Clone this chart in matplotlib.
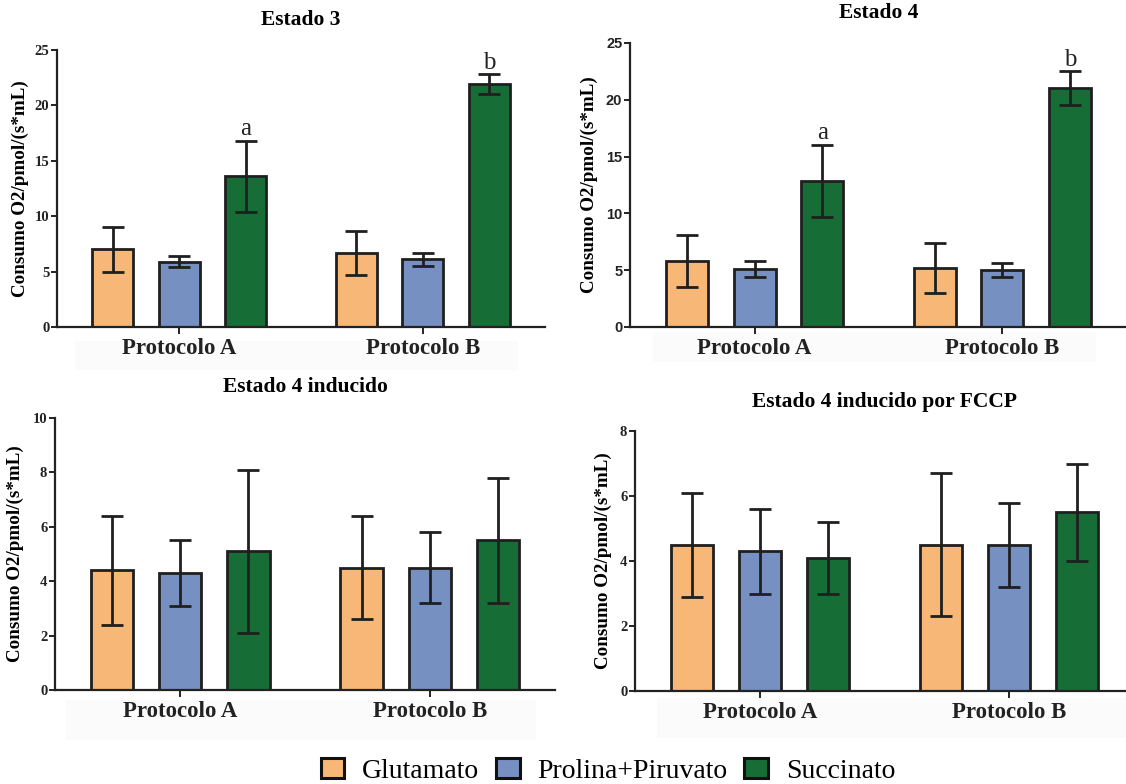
import matplotlib
matplotlib.use("Agg")
import matplotlib.pyplot as plt
from matplotlib.patches import Patch, Rectangle
import numpy as np

# ---- data ----
groups = ["Protocolo A", "Protocolo B"]
series = ["Glutamato", "Prolina+Piruvato", "Succinato"]
colors = ["#F7B776", "#7590C1", "#176D36"]

estado3_means = [[7.0, 6.7], [5.9, 6.1], [13.6, 21.9]]
estado3_err = [[2.0, 2.0], [0.5, 0.6], [3.2, 0.9]]
estado3_letters = ["a", "b"]

estado4_means = [[5.8, 5.2], [5.1, 5.0], [12.85, 21.0]]
estado4_err = [[2.3, 2.2], [0.7, 0.6], [3.2, 1.5]]
estado4_letters = ["a", "b"]

inducido_means = [[4.4, 4.5], [4.3, 4.5], [5.1, 5.5]]
inducido_err = [[2.0, 1.9], [1.2, 1.3], [3.0, 2.3]]

fccp_means = [[4.5, 4.5], [4.3, 4.5], [4.1, 5.5]]
fccp_err = [[1.6, 2.2], [1.3, 1.3], [1.1, 1.5]]

ylabel = "Consumo O2/pmol/(s*mL)"

# ---- layout ----
W, H = 1126, 784
fig = plt.figure(figsize=(W / 100, H / 100), dpi=100)
fig.patch.set_facecolor("white")

SERIF = ["Liberation Serif", "DejaVu Serif"]
SANS = ["Liberation Sans", "DejaVu Sans"]
EDGE = "#1f1f1f"

group_x = np.array([0.0, 3.66])
offsets = [-1.0, 0.0, 1.0]
bar_w = 0.62


def px_axes(left, right, top, bottom):
    return fig.add_axes([left / W, 1 - bottom / H, (right - left) / W, (bottom - top) / H])


def strip(left, right, top, bottom):
    fig.patches.append(Rectangle((left / W, 1 - bottom / H), (right - left) / W,
                                 (bottom - top) / H, transform=fig.transFigure,
                                 facecolor="#fbfbfb", edgecolor="none", zorder=-5))


def panel(ax, title, means, errs, ymax, ystep, tick_font, title_gap_px,
          ylab_x_px, letters=None, xright=5.5):
    for i in range(3):
        xs = group_x + offsets[i]
        ax.bar(xs, means[i], width=bar_w, color=colors[i], edgecolor=EDGE,
               linewidth=2.0, zorder=2)
        ax.errorbar(xs, means[i], yerr=errs[i], fmt="none", ecolor=EDGE,
                    elinewidth=2.0, capsize=8, capthick=2.0, zorder=3)
    if letters:
        xs = group_x + offsets[2]
        for x, m, e, lab in zip(xs, means[2], errs[2], letters):
            ax.annotate(lab, (x, m + e), xytext=(0, 4), textcoords="offset points",
                        ha="center", va="baseline", fontsize=18,
                        family=SERIF, color="#222222")
    ax.set_xlim(-1.84, xright)
    ax.set_ylim(0, ymax)
    ax.set_yticks(np.arange(0, ymax + 0.01, ystep))
    ax.set_xticks(group_x)
    ax.set_xticklabels(groups, family=SERIF, fontweight="bold", fontsize=16.5)
    for lab in ax.get_yticklabels():
        lab.set_family(tick_font)
        lab.set_fontweight("bold")
        lab.set_fontsize(10.5)
    for s in ("top", "right"):
        ax.spines[s].set_visible(False)
    for s in ("left", "bottom"):
        ax.spines[s].set_linewidth(1.6)
        ax.spines[s].set_color("#222222")
    ax.tick_params(axis="y", length=4, width=1.4, pad=1.5, colors="#222222")
    ax.tick_params(axis="x", length=5, width=1.4, pad=3, colors="#222222")
    ax.set_ylabel(ylabel, family=SERIF, fontweight="bold", fontsize=13.7)
    ax.yaxis.label.set_va("center")
    # label centre placed at a fixed pixel distance left of the spine
    bb = ax.get_position()
    ax_w_px = bb.width * W
    ax_h_px = bb.height * H
    ax.yaxis.set_label_coords(-ylab_x_px / ax_w_px, 0.5)
    ax.text(0.5, 1 + title_gap_px / ax_h_px, title, transform=ax.transAxes,
            ha="center", va="center", family=SERIF, fontweight="bold",
            fontsize=15.5)
    ax.set_facecolor("none")


# faint label backgrounds
strip(75, 518, 341, 370)
strip(653, 1096, 332, 362)
strip(66, 536, 700, 740)
strip(657, 1126, 698, 738)

ax1 = px_axes(57, 545, 50, 327)
panel(ax1, "Estado 3", estado3_means, estado3_err, 25, 5, SERIF, 30, 37,
      letters=estado3_letters)

ax2 = px_axes(630, 1127, 43, 327)
panel(ax2, "Estado 4", estado4_means, estado4_err, 25, 5, SANS, 30, 41,
      letters=estado4_letters)

ax3 = px_axes(55, 555, 418, 690)
panel(ax3, "Estado 4 inducido", inducido_means, inducido_err, 10, 2, SERIF, 31, 40)

ax4 = px_axes(635, 1134, 431, 691)
panel(ax4, "Estado 4 inducido por FCCP", fccp_means, fccp_err, 8, 2, SERIF, 29, 32)

# legend
handles = [Patch(facecolor=c, edgecolor="#111111", linewidth=2.2) for c in colors]
fig.legend(handles, series, loc="center", bbox_to_anchor=(608 / W, 1 - 771 / H),
           ncol=3, frameon=False, prop={"family": SERIF, "size": 20},
           handlelength=0.85, handleheight=0.75, handletextpad=0.65,
           columnspacing=0.6, borderaxespad=0, borderpad=0)

fig.savefig("out.png", dpi=100)
